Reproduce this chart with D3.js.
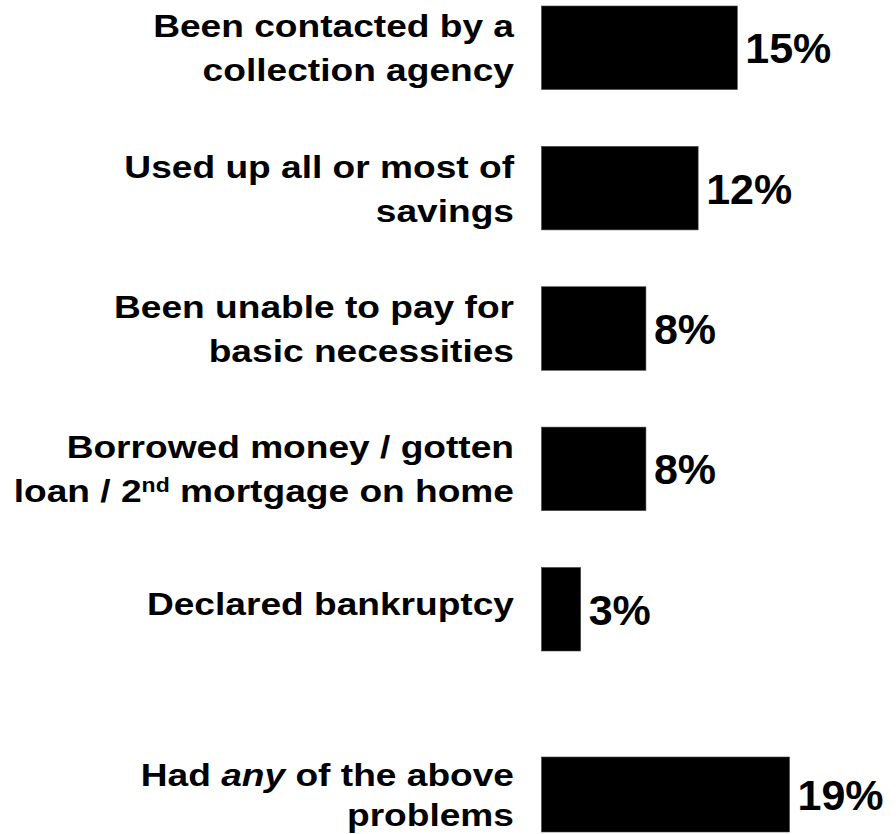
<!DOCTYPE html>
<html>
<head>
<meta charset="utf-8">
<script src="https://cdn.jsdelivr.net/npm/d3@7"></script>
<style>
  html, body { margin: 0; padding: 0; background: #fff; }
  svg { display: block; }
  text { font-family: "Liberation Sans", Arial, Helvetica, sans-serif; font-weight: bold; fill: #000; }
</style>
</head>
<body>
<svg id="chart" width="896" height="834"></svg>
<script>
// ---- data ----
const categories = [
  "Been contacted by a collection agency",
  "Used up all or most of savings",
  "Been unable to pay for basic necessities",
  "Borrowed money / gotten loan / 2nd mortgage on home",
  "Declared bankruptcy"
];
const values = [15, 12, 8, 8, 3];
const totalCategory = "Had any of the above problems";
const totalValue = 19;
const valueLabels = ["15%", "12%", "8%", "8%", "3%"];
const totalLabel = "19%";
// label lines; each line is a list of [text, style] pieces
const labelLines = [
  [[["Been contacted by a", ""]], [["collection agency", ""]]],
  [[["Used up all or most of", ""]], [["savings", ""]]],
  [[["Been unable to pay for", ""]], [["basic necessities", ""]]],
  [[["Borrowed money / gotten", ""]], [["loan / 2", ""], ["nd", "sup"], [" mortgage on home", "after-sup"]]],
  [[["Declared bankruptcy", ""]]]
];
const totalLabelLines = [
  [["Had ", ""], ["any", "italic"], [" of the above", ""]],
  [["problems", ""]]
];

// ---- layout ----
const svg = d3.select("#chart");
const x0 = 541.5;
const x = d3.scaleLinear().domain([0, 19]).range([x0, x0 + 248]);
const y = d3.scaleBand().domain(categories).range([6, 651]).paddingInner(0.405).paddingOuter(0);
const yTotal = d3.scaleBand().domain([totalCategory]).range([757, 832]).padding(0);

const labelRight = 514;
const labelFont = 32;
const labelStretch = 1.16;
const lineGap = 44;
const valueFont = 43;

function drawBar(cat, val, lab, yScale, lines, gap) {
  const yc = yScale(cat) + yScale.bandwidth() / 2;
  svg.append("rect")
    .attr("x", x(0)).attr("y", yScale(cat))
    .attr("width", x(val) - x(0)).attr("height", yScale.bandwidth())
    .attr("fill", "#000").attr("stroke", "#444").attr("stroke-width", 0.6);
  svg.append("text")
    .attr("x", x(val) + 8).attr("y", yc + valueFont * 0.716 / 2)
    .attr("font-size", valueFont)
    .text(lab);
  const n = lines.length;
  const shift = n === 1 ? -6 : 0;
  const g = svg.append("g")
    .attr("transform", `translate(${labelRight},0) scale(${labelStretch},1)`);
  lines.forEach((pieces, i) => {
    const capMid = yc + shift + (i - (n - 1) / 2) * gap;
    const t = g.append("text")
      .attr("x", 0).attr("y", capMid + labelFont * 0.716 / 2)
      .attr("text-anchor", "end")
      .attr("font-size", labelFont);
    pieces.forEach(([s, style]) => {
      const ts = t.append("tspan").text(s);
      if (style === "italic") ts.attr("font-style", "italic");
      if (style === "sup") ts.attr("font-size", labelFont * 0.62).attr("dy", -labelFont * 0.33);
      if (style === "after-sup") ts.attr("dy", labelFont * 0.33);
    });
  });
}

categories.forEach((c, i) => drawBar(c, values[i], valueLabels[i], y, labelLines[i], lineGap));
drawBar(totalCategory, totalValue, totalLabel, yTotal, totalLabelLines, 40);
</script>
</body>
</html>
